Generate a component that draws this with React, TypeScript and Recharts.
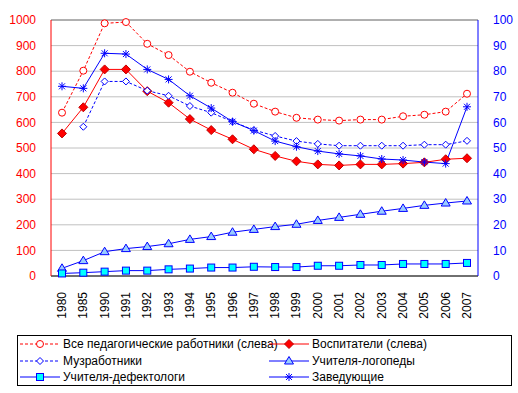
import React from 'react';
import {
  LineChart,
  Line,
  XAxis,
  YAxis,
  CartesianGrid,
  ReferenceLine,
} from 'recharts';

const years = [
  '1980', '1985', '1990', '1991', '1992', '1993', '1994', '1995', '1996',
  '1997', '1998', '1999', '2000', '2001', '2002', '2003', '2004', '2005', '2006', '2007',
];

// left axis series
const allStaff = [638, 802, 987, 992, 907, 863, 798, 755, 716, 673, 642, 618, 611, 607, 611, 611, 624, 630, 642, 712];
const educators = [557, 659, 807, 807, 722, 677, 613, 570, 534, 495, 469, 448, 436, 432, 436, 436, 439, 444, 456, 460];
// right axis series
const music = [null, 58.3, 76, 76, 72.4, 70.4, 66.4, 63.8, 60.3, 57, 54.7, 52.7, 51.6, 50.9, 50.9, 50.9, 50.9, 51.3, 51.3, 52.8];
const speech = [3, 6, 9.5, 10.7, 11.5, 12.6, 14.3, 15.4, 17.1, 18.2, 19.3, 20.2, 21.7, 22.9, 24.1, 25.3, 26.4, 27.6, 28.5, 29.3];
const defect = [1, 1.3, 1.7, 2.1, 2.1, 2.6, 2.9, 3.3, 3.3, 3.6, 3.5, 3.5, 4.0, 4.0, 4.3, 4.3, 4.7, 4.7, 4.7, 5.1];
const heads = [74.1, 73.3, 87, 86.7, 80.7, 76.8, 70.4, 65.6, 60.3, 56.8, 52.7, 50.5, 48.8, 47.7, 46.9, 45.7, 45.3, 44.5, 43.9, 66.1];

const leftTicks = [0, 100, 200, 300, 400, 500, 600, 700, 800, 900, 1000];
const rightTicks = [0, 10, 20, 30, 40, 50, 60, 70, 80, 90, 100];

const seriesNames = {
  allStaff: 'Все педагогические работники (слева)',
  educators: 'Воспитатели (слева)',
  music: 'Музработники',
  speech: 'Учителя-логопеды',
  defect: 'Учителя-дефектологи',
  heads: 'Заведующие',
};

const data = years.map((year, i) => ({
  year,
  allStaff: allStaff[i],
  educators: educators[i],
  music: music[i],
  speech: speech[i],
  defect: defect[i],
  heads: heads[i],
}));

const RED = '#ff0000';
const BLUE = '#0000ff';
const FONT = '"Liberation Sans", Arial, sans-serif';

type Kind = 'circle' | 'diamond' | 'bigDiamond' | 'triangle' | 'square' | 'star';

const marker = (kind: Kind, cx: number, cy: number, stroke: string, fill: string) => {
  switch (kind) {
    case 'circle':
      return <circle cx={cx} cy={cy} r={3.5} fill={fill} stroke={stroke} strokeWidth={1} />;
    case 'diamond':
      return (
        <path d={`M${cx},${cy - 3.5}L${cx + 3.5},${cy}L${cx},${cy + 3.5}L${cx - 3.5},${cy}Z`} fill={fill} stroke={stroke} />
      );
    case 'bigDiamond':
      return (
        <path d={`M${cx},${cy - 4.5}L${cx + 4.5},${cy}L${cx},${cy + 4.5}L${cx - 4.5},${cy}Z`} fill={fill} stroke={stroke} />
      );
    case 'triangle':
      return (
        <path d={`M${cx},${cy - 4.5}L${cx + 4.5},${cy + 3}L${cx - 4.5},${cy + 3}Z`} fill={fill} stroke={stroke} />
      );
    case 'square':
      return <rect x={cx - 3.5} y={cy - 3.5} width={7} height={7} fill={fill} stroke={stroke} />;
    case 'star':
      return (
        <g stroke={stroke} strokeWidth={1}>
          <line x1={cx - 4} y1={cy} x2={cx + 4} y2={cy} />
          <line x1={cx} y1={cy - 4} x2={cx} y2={cy + 4} />
          <line x1={cx - 3} y1={cy - 3} x2={cx + 3} y2={cy + 3} />
          <line x1={cx - 3} y1={cy + 3} x2={cx + 3} y2={cy - 3} />
        </g>
      );
  }
  return null;
};

const makeDot = (kind: Kind, stroke: string, fill: string) => (props: any) => {
  const { cx, cy, index, value } = props;
  if (cx == null || cy == null || value == null) return <g key={`d-${index}`} />;
  return <g key={`d-${index}`}>{marker(kind, cx, cy, stroke, fill)}</g>;
};

const YearTick = ({ x, y, payload }: any) => (
  <text
    transform={`translate(${x},${y + 8}) rotate(-90)`}
    textAnchor="end"
    dominantBaseline="central"
    fontSize={12}
    fontFamily={FONT}
    fill="#000"
  >
    {payload.value}
  </text>
);

const legendItems: { key: keyof typeof seriesNames; kind: Kind; stroke: string; fill: string; dash?: string }[] = [
  { key: 'allStaff', kind: 'circle', stroke: RED, fill: '#fff', dash: '3 2' },
  { key: 'educators', kind: 'bigDiamond', stroke: '#c00000', fill: RED },
  { key: 'music', kind: 'diamond', stroke: BLUE, fill: '#fff', dash: '3 2' },
  { key: 'speech', kind: 'triangle', stroke: BLUE, fill: '#99ccff' },
  { key: 'defect', kind: 'square', stroke: BLUE, fill: '#00ffff' },
  { key: 'heads', kind: 'star', stroke: BLUE, fill: BLUE },
];

const LegendBox = () => (
  <div
    style={{
      position: 'absolute',
      left: 17,
      top: 335,
      width: 495,
      height: 51,
      boxSizing: 'border-box',
      border: '1px solid #000',
      fontFamily: FONT,
      fontSize: 12,
      color: '#000',
    }}
  >
    {legendItems.map((item, i) => {
      const col = i % 2;
      const row = Math.floor(i / 2);
      const lineColor = item.key === 'allStaff' || item.key === 'educators' ? RED : BLUE;
      return (
        <div
          key={item.key}
          style={{
            position: 'absolute',
            left: col === 0 ? 2 : 251,
            top: 1 + row * 16.5,
            height: 14,
            display: 'flex',
            alignItems: 'center',
            whiteSpace: 'nowrap',
          }}
        >
          <svg width={40} height={14} style={{ display: 'block' }}>
            <line x1={0} y1={7} x2={40} y2={7} stroke={lineColor} strokeDasharray={item.dash} />
            {marker(item.kind, 20, 7, item.stroke, item.fill)}
          </svg>
          <span style={{ marginLeft: 3 }}>{seriesNames[item.key]}</span>
        </div>
      );
    })}
  </div>
);

export default function App() {
  return (
    <div style={{ position: 'absolute', left: 0, top: 0, width: 518, height: 393, background: '#fff' }}>
      <LineChart width={518} height={393} data={data} margin={{ top: 20, right: 0, left: 0, bottom: 72 }}>
        <CartesianGrid vertical={false} stroke="#c0c0c0" yAxisId="left" />
        <XAxis
          dataKey="year"
          interval={0}
          tickLine={false}
          axisLine={{ stroke: '#000' }}
          height={45}
          padding={{ left: 11, right: 11 }}
          tick={<YearTick />}
        />
        <YAxis
          yAxisId="left"
          width={51}
          domain={[0, 1000]}
          ticks={leftTicks}
          tickLine={false}
          axisLine={{ stroke: RED }}
          tick={{ fill: RED, fontSize: 12, fontFamily: FONT }}
          tickMargin={9}
        />
        <YAxis
          yAxisId="right"
          orientation="right"
          width={40}
          domain={[0, 100]}
          ticks={rightTicks}
          tickLine={false}
          axisLine={{ stroke: BLUE }}
          tick={{ fill: BLUE, fontSize: 12, fontFamily: FONT }}
          tickMargin={9}
        />
        <ReferenceLine yAxisId="left" y={1000} stroke="#808080" />
        <Line
          yAxisId="left"
          dataKey="allStaff"
          stroke={RED}
          strokeDasharray="3 2"
          dot={makeDot('circle', RED, '#fff')}
          isAnimationActive={false}
        />
        <Line
          yAxisId="left"
          dataKey="educators"
          stroke={RED}
          dot={makeDot('bigDiamond', '#c00000', RED)}
          isAnimationActive={false}
        />
        <Line
          yAxisId="right"
          dataKey="music"
          stroke={BLUE}
          strokeDasharray="3 2"
          dot={makeDot('diamond', BLUE, '#fff')}
          isAnimationActive={false}
        />
        <Line
          yAxisId="right"
          dataKey="speech"
          stroke={BLUE}
          dot={makeDot('triangle', BLUE, '#99ccff')}
          isAnimationActive={false}
        />
        <Line
          yAxisId="right"
          dataKey="defect"
          stroke={BLUE}
          dot={makeDot('square', BLUE, '#00ffff')}
          isAnimationActive={false}
        />
        <Line
          yAxisId="right"
          dataKey="heads"
          stroke={BLUE}
          dot={makeDot('star', BLUE, BLUE)}
          isAnimationActive={false}
        />
      </LineChart>
      <LegendBox />
    </div>
  );
}
